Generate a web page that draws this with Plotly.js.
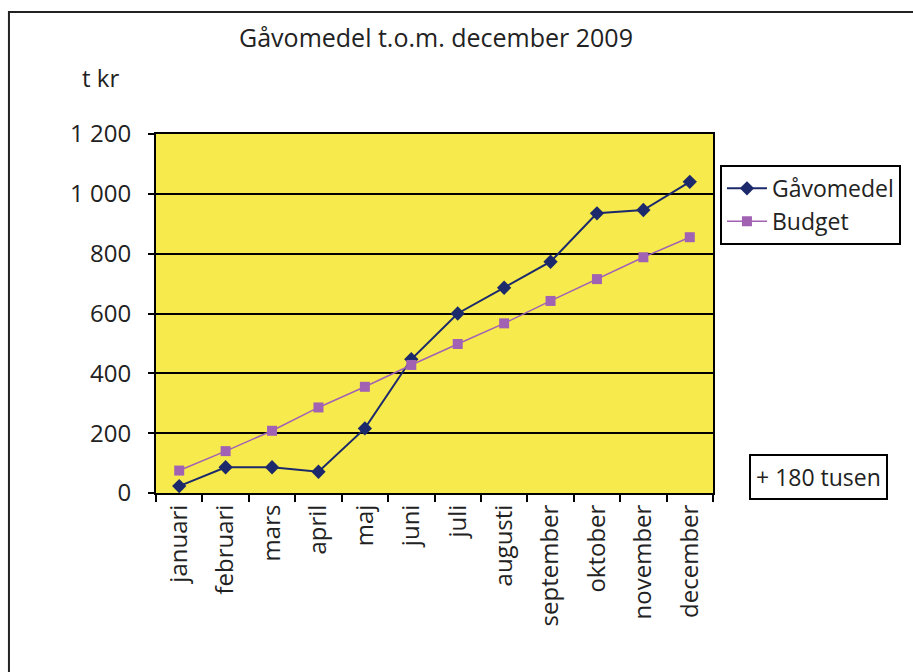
<!DOCTYPE html>
<html><head><meta charset="utf-8">
<script src="https://cdn.plot.ly/plotly-3.0.1.min.js"></script>
<style>html,body{margin:0;padding:0;background:#fff}</style>
</head><body>
<div id="chart" style="width:913px;height:672px"></div>
<script>
var months = ["januari","februari","mars","april","maj","juni","juli","augusti","september","oktober","november","december"];
var gavomedel = [23, 86, 86, 71, 216, 447, 600, 686, 773, 935, 946, 1040];
var budget = [75, 140, 208, 286, 355, 428, 498, 567, 642, 715, 788, 855];
var yTicks = [0, 200, 400, 600, 800, 1000, 1200];
var yTickText = ["0", "200", "400", "600", "800", "1 000", "1 200"];

var FONT = "Open Sans, Noto Sans, sans-serif";
var traces = [
  {x: months, y: gavomedel, name: "Gåvomedel", type: "scatter", mode: "lines+markers",
   line: {color: "#1c2a6b", width: 2}, marker: {symbol: "diamond", size: 11, color: "#1c2a6b"}},
  {x: months, y: budget, name: "Budget", type: "scatter", mode: "lines+markers",
   line: {color: "#a262b4", width: 1.5}, marker: {symbol: "square", size: 10, color: "#a262b4"}}
];
var layout = {
  width: 913, height: 672,
  margin: {l: 156, r: 197, t: 134, b: 179},
  paper_bgcolor: "#ffffff", plot_bgcolor: "#f6ea4c",
  font: {family: FONT, color: "#222", size: 22},
  title: {text: "Gåvomedel t.o.m. december 2009", x: 436/913, xanchor: "center", y: 1 - 38/672, yanchor: "middle",
          font: {family: FONT, size: 25, color: "#222"}},
  showlegend: true,
  legend: {x: 1.0125, y: 0.914, xanchor: "left", yanchor: "top", bordercolor: "#000", borderwidth: 2,
           bgcolor: "#fff", font: {size: 23, family: FONT}, itemwidth: 40, tracegroupgap: 0},
  xaxis: {type: "category", range: [-0.5, 11.5], tickson: "boundaries", ticks: "outside", ticklen: 7,
          tickcolor: "#000", tickwidth: 2, tickangle: -90, showline: true, linecolor: "#000", linewidth: 2,
          mirror: true, showgrid: false, tickfont: {size: 24, family: FONT}, fixedrange: true},
  yaxis: {range: [0, 1200], tickvals: yTicks, ticktext: yTickText, ticks: "outside", ticklen: 6,
          tickcolor: "#000", tickwidth: 2, showline: true, linecolor: "#000", linewidth: 2, mirror: true,
          ticklabelstandoff: 12,
          showgrid: true, gridcolor: "#000", gridwidth: 2, zeroline: false, tickfont: {size: 24, family: FONT}},
  annotations: [
    {text: "t kr", xref: "paper", yref: "paper", x: -0.1, y: 1.156, xanchor: "center", yanchor: "middle", showarrow: false,
     font: {size: 24, family: FONT, color: "#222"}},
    {text: "+ 180 tusen", xref: "paper", yref: "paper", x: 1.189, y: 0.0446, xanchor: "center", yanchor: "middle", showarrow: false,
     bordercolor: "#000", borderwidth: 2, borderpad: 5, bgcolor: "#fff",
     font: {size: 23, family: FONT, color: "#222"}}
  ],
  shapes: [
    {type: "rect", xref: "paper", yref: "paper", x0: -0.264, x1: 1.5, y0: -0.6, y1: 1.34,
     line: {color: "#222", width: 2}, fillcolor: "rgba(0,0,0,0)", layer: "below"}
  ]
};
Plotly.newPlot("chart", traces, layout, {displayModeBar: false, staticPlot: true});
</script>
</body></html>
